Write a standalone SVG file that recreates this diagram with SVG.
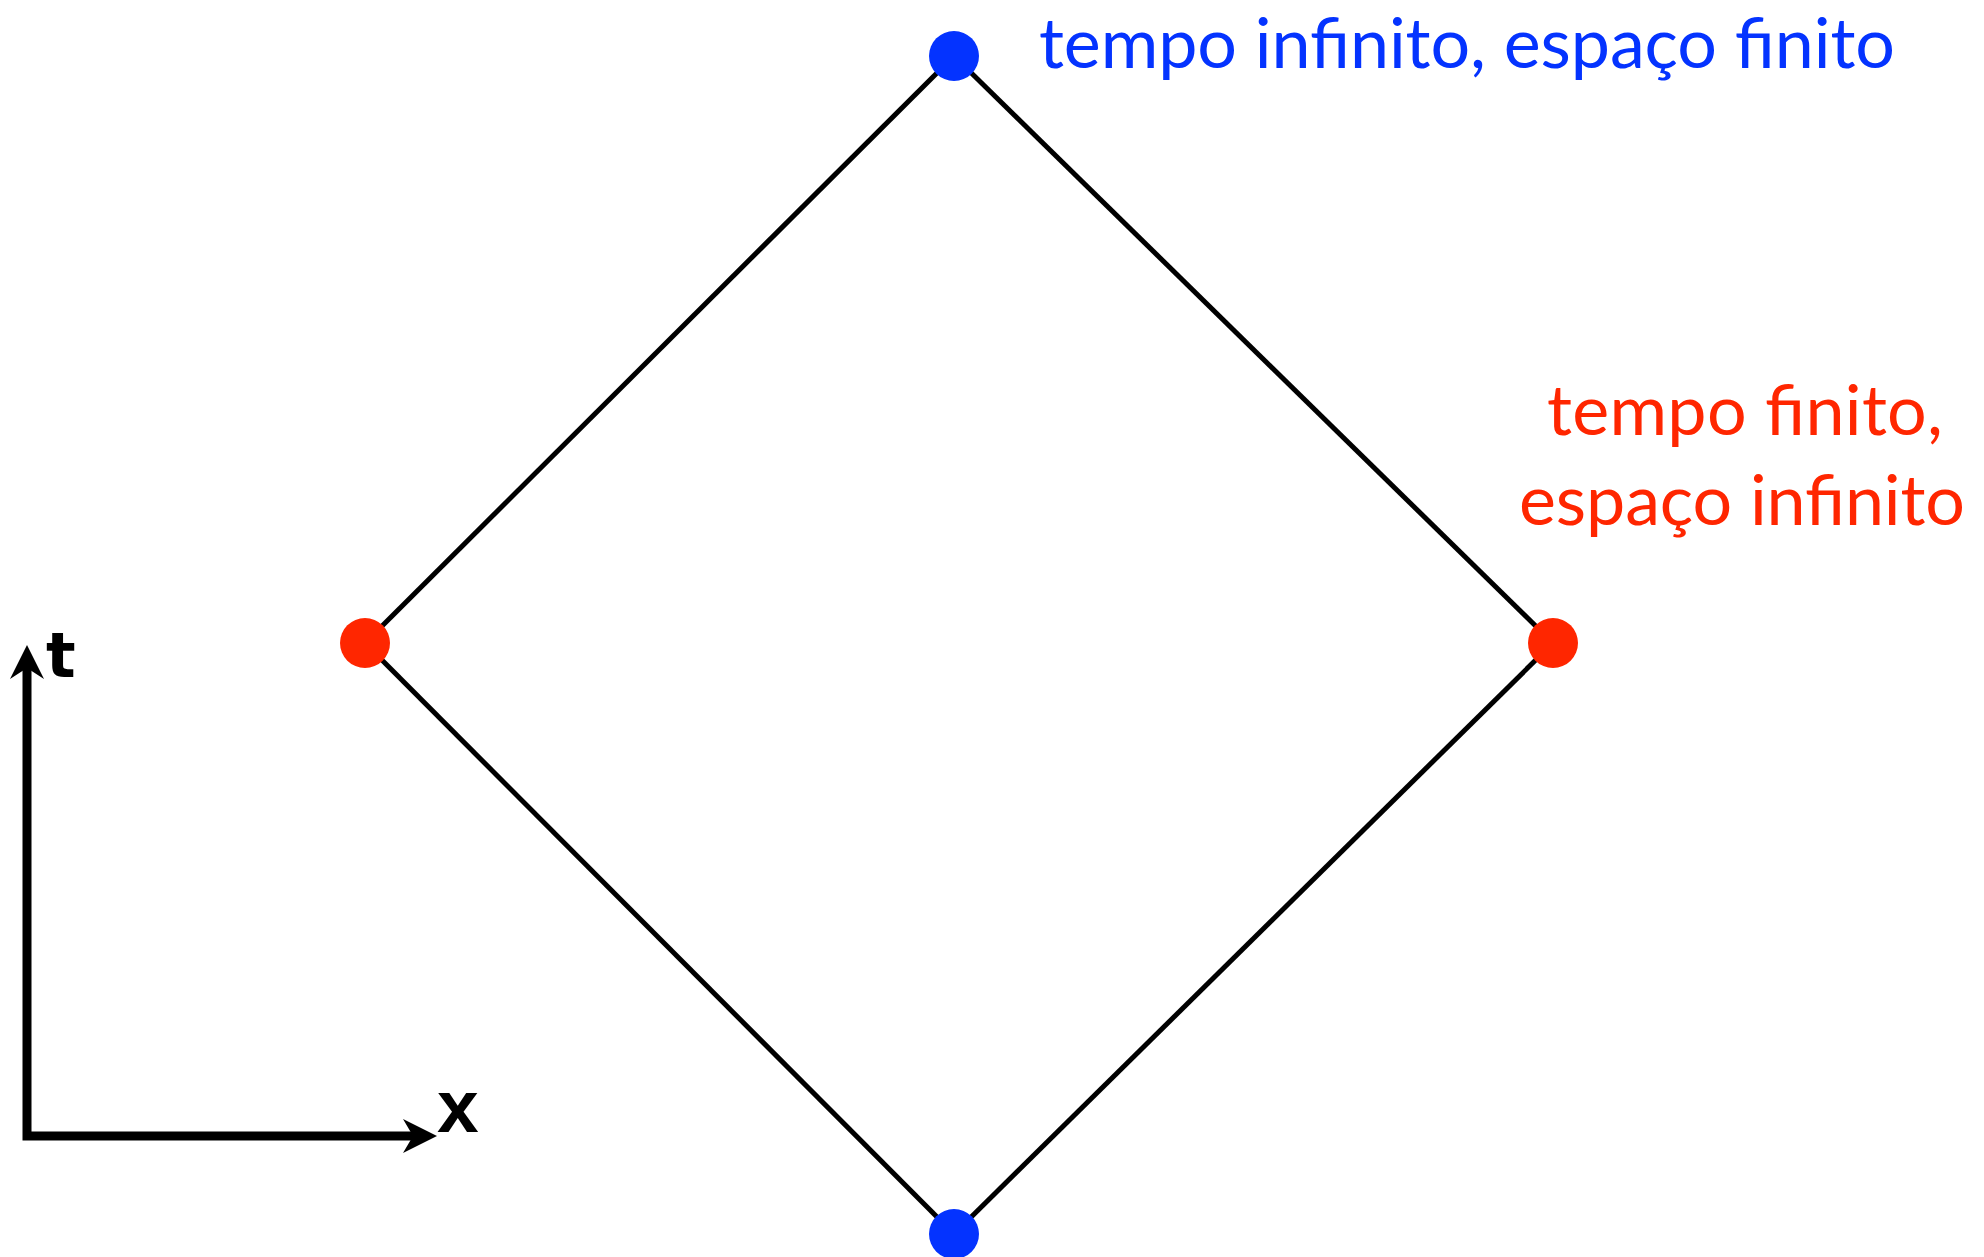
<svg xmlns="http://www.w3.org/2000/svg" width="1984" height="1257" viewBox="0 0 1984 1257">
<style>
.edge{stroke:#000;stroke-width:5;fill:none}
.axis{stroke:#000;stroke-width:9;fill:none}
.blue{fill:#0433FF}
.red{fill:#FF2600}
.lbl{font-family:Lato,"Open Sans","Liberation Sans",sans-serif;font-size:70px}
</style>
<rect width="1984" height="1257" fill="#fff"/>
<g id="connectors">
<line class="edge" x1="954" y1="56" x2="1553" y2="643"/>
<line class="edge" x1="1553" y1="643" x2="954" y2="1234"/>
<line class="edge" x1="954" y1="1234" x2="365" y2="643"/>
<line class="edge" x1="365" y1="643" x2="954" y2="56"/>
</g>
<g id="axes">
<polyline class="axis" points="27,668 27,1136 413,1136"/>
<polygon points="27,645 44,679 27,668 10,679" fill="#000"/>
<polygon points="437,1136 403,1119 413,1136 403,1153" fill="#000"/>
<text x="46" y="677" font-family="'DejaVu Sans',sans-serif" font-weight="bold" font-size="62" fill="#000">t</text>
<text x="437" y="1132" font-family="'Liberation Sans',Arial,sans-serif" font-weight="bold" font-size="75" fill="#000">x</text>
</g>
<g id="node-top">
<circle class="blue" cx="954" cy="56" r="25"/>
<text class="lbl blue" x="1039" y="68" font-size="63" textLength="856" lengthAdjust="spacing">tempo infinito, espaço finito</text>
</g>
<g id="node-right">
<circle class="red" cx="1553" cy="643" r="25"/>
<text class="lbl red"><tspan x="1547" y="435" textLength="396" lengthAdjust="spacing">tempo finito,</tspan><tspan x="1519" y="525" textLength="446" lengthAdjust="spacing">espaço infinito</tspan></text>
</g>
<g id="node-left">
<circle class="red" cx="365" cy="643" r="25"/>
</g>
<g id="node-bottom">
<circle class="blue" cx="954" cy="1234" r="25"/>
</g>
</svg>
